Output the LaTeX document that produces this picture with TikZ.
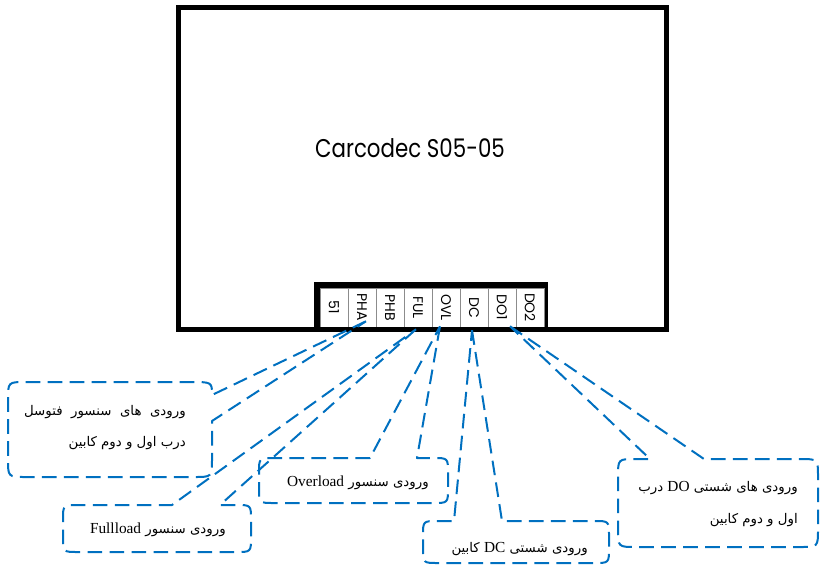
\documentclass[tikz,border=0pt]{standalone}
\usepackage{fontspec}
\setmainfont{Liberation Serif}
\newfontfamily\fa[Script=Arabic]{DejaVu Sans}
\newfontfamily\tnr{Liberation Serif}
\newfontfamily\geo{Poppins}
\TeXXeTstate=1
\definecolor{cblue}{RGB}{0,112,192}
\newcommand{\lat}[1]{\beginL{\tnr\fontsize{11.5}{13}\selectfont #1}\endL}
\tikzset{
  callout/.style={draw=cblue, line width=1.5pt, dash pattern=on 11pt off 5.5pt, line join=round},
  cell/.style={draw=black!45, line width=0.4pt, fill=white, minimum width=21pt, minimum height=29.25pt, inner sep=0pt},
  celltext/.style={rotate=-90, font=\geo\fontsize{10.5}{12}\selectfont, inner sep=0pt},
  fatext/.style={anchor=east, inner sep=0pt, font=\fa\fontsize{10}{12}\selectfont},
  titletext/.style={font=\geo\fontsize{16}{18}\selectfont, inner sep=0pt}
}
\begin{document}
\begin{tikzpicture}[x=0.75pt,y=-0.75pt]
\useasboundingbox (0,0) rectangle (821,568);
% terminal block
\draw[line width=4.5pt] (317,330) -- (317,285) -- (544.5,285) -- (544.5,330);
\node[cell] (c51) at (334,307.5) {};
\node[cell] (pha) at (362,307.5) {};
\node[cell] (phb) at (390,307.5) {};
\node[cell] (ful) at (418,307.5) {};
\node[cell] (ovl) at (446,307.5) {};
\node[cell] (dc)  at (474,307.5) {};
\node[cell] (doa) at (502,307.5) {};
\node[cell] (dob) at (530,307.5) {};
\node[celltext] (l51) at (c51) {51};
\node[celltext] (lpha) at (pha) {PHA};
\node[celltext] (lphb) at (phb) {PHB};
\node[celltext] (lful) at (ful) {FUL};
\node[celltext] (lovl) at (ovl) {OVL};
\node[celltext] (ldc) at (dc) {DC};
\node[celltext] (ldoa) at (doa) {DO1};
\node[celltext] (ldob) at (dob) {DO2};
% main box
\draw[line width=3.75pt] (178.5,7) rectangle (666,329.5);
\node[titletext] (title) at (410,148) {\scalebox{1}[1.2]{Carcodec S05-05}};
% tips
\coordinate (p1) at ([shift={(4,-6)}]pha.south);
\coordinate (p2) at ([shift={(-2,2)}]ful.south);
\coordinate (p3) at ([shift={(-6,-1)}]ovl.south);
\coordinate (p4) at ([shift={(-2,3)}]dc.south);
\coordinate (p5) at ([shift={(8,-1)}]doa.south);
% callout 1
\draw[callout] (p1) -- (212,395) .. controls (212,382) .. (190,382) -- (26,382) .. controls (8,382) .. (8,400) -- (8,459) .. controls (8,477) .. (26,477) -- (194,477) .. controls (212,477) .. (212,459) -- (212,421) -- (p1);
% callout 2
\draw[callout] (p2) -- (220,505) -- (236,505) .. controls (251,505) .. (251,520) -- (251,537) .. controls (251,552) .. (236,552) -- (78,552) .. controls (63,552) .. (63,537) -- (63,520) .. controls (63,505) .. (78,505) -- (172,505) -- (p2);
% callout 3
\draw[callout] (p3) -- (417,458) -- (433,458) .. controls (448,458) .. (448,473) -- (448,488) .. controls (448,503) .. (433,503) -- (274,503) .. controls (259,503) .. (259,488) -- (259,473) .. controls (259,458) .. (274,458) -- (370,458) -- (p3);
% callout 4
\draw[callout] (p4) -- (502,521) -- (594,521) .. controls (609,521) .. (609,536) -- (609,548) .. controls (609,563) .. (594,563) -- (438,563) .. controls (423,563) .. (423,548) -- (423,536) .. controls (423,521) .. (438,521) -- (454,521) -- (p4);
% callout 5
\draw[callout] (p5) -- (704,459) -- (800,459) .. controls (818,459) .. (818,477) -- (818,529) .. controls (818,547) .. (800,547) -- (636,547) .. controls (618,547) .. (618,529) -- (618,477) .. controls (618,459) .. (636,459) -- (650,459) -- (p5);
% texts
\node[fatext] (t1a) at (186,412) {\beginR ورودی\ \ های\ \ سنسور\ \ فتوسل\endR};
\node[fatext] (t1b) at (186,443) {\beginR درب اول و دوم کابین\endR};
\node[fatext] (t2) at (226,530) {\beginR ورودی سنسور \lat{Fullload}\endR};
\node[fatext] (t3) at (429,483) {\beginR ورودی سنسور \lat{Overload}\endR};
\node[fatext] (t4) at (588,549) {\beginR ورودی شستی \lat{DC}{} کابین\endR};
\node[fatext] (t5a) at (798,488) {\beginR ورودی های شستی \lat{DO}{} درب\endR};
\node[fatext] (t5b) at (798,520) {\beginR اول و دوم کابین\endR};
\end{tikzpicture}
\end{document}
